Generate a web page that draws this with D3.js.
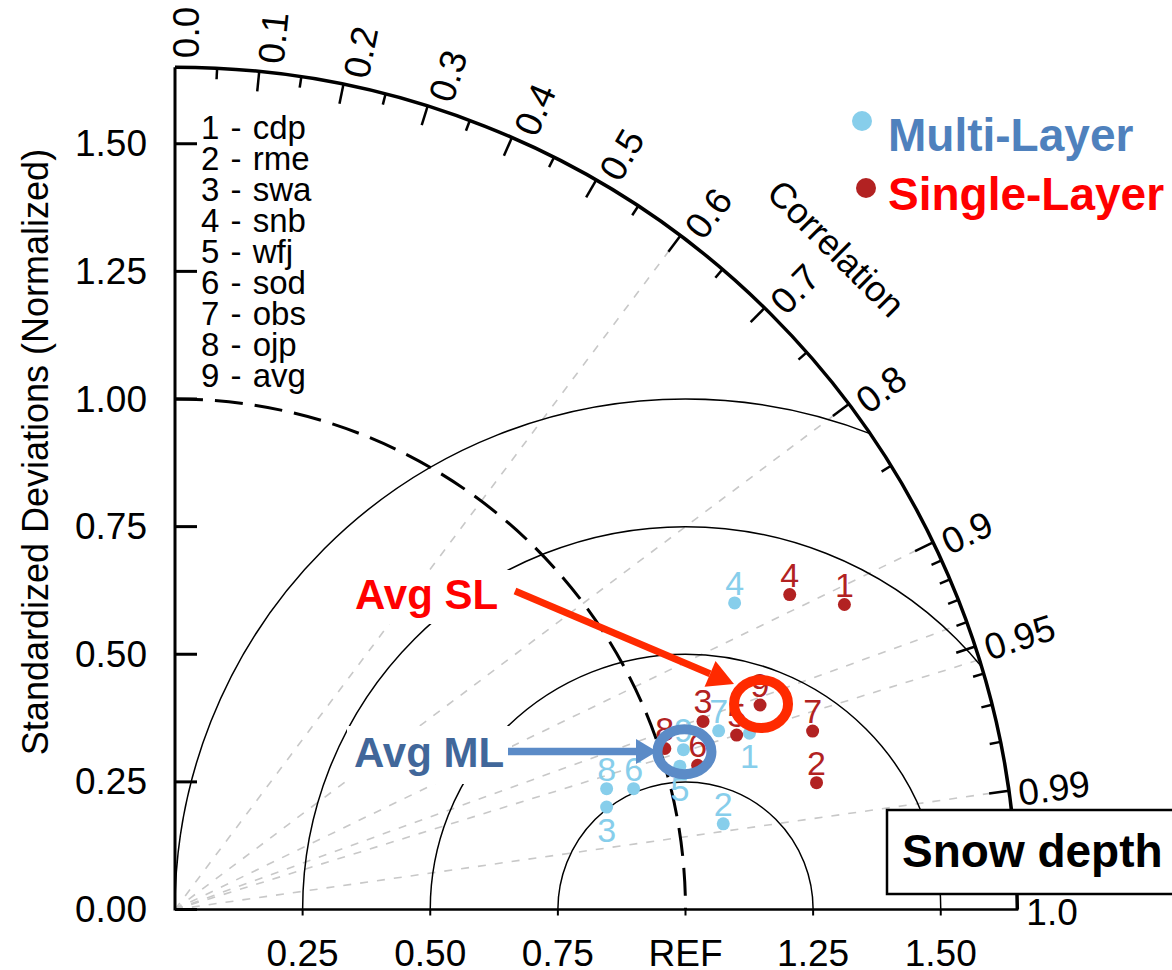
<!DOCTYPE html>
<html><head><meta charset="utf-8">
<script src="https://cdn.jsdelivr.net/npm/d3@7"></script>
<style>
body{margin:0;background:#fff}
svg{display:block}
text{font-family:"Liberation Sans",Arial,Helvetica,sans-serif}
</style>
</head><body>
<svg id="chart" width="1172" height="970"></svg>
<script>
// ---------------- data ----------------
const siteIds   = ["1","2","3","4","5","6","7","8","9"];
const siteNames = ["cdp","rme","swa","snb","wfj","sod","obs","ojp","avg"];

// Multi-Layer (normalized std, correlation)
const mlStd  = [1.177, 1.087, 0.869, 1.250, 1.028, 0.929, 1.121, 0.878, 1.044];
const mlCorr = [0.956, 0.988, 0.973, 0.877, 0.962, 0.967, 0.950, 0.963, 0.954];
const mlLabelSide = ["below","above","below","above","below","above","above","above","above"];

// Single-Layer
const slStd  = [1.441, 1.281, 1.098, 1.353, 1.152, 1.062, 1.297, 1.010, 1.214];
const slCorr = [0.910, 0.981, 0.942, 0.890, 0.955, 0.964, 0.963, 0.950, 0.944];
const slLabelSide = ["above","above","above","above","above","above","above","above","above"];

const yTickVals   = [0, 0.25, 0.5, 0.75, 1.0, 1.25, 1.5];
const yTickLabels = ["0.00","0.25","0.50","0.75","1.00","1.25","1.50"];
const xTickVals   = [0.25, 0.5, 0.75, 1.0, 1.25, 1.5];
const xTickLabels = ["0.25","0.50","0.75","REF","1.25","1.50"];

const corrMajorVals   = [0,0.1,0.2,0.3,0.4,0.5,0.6,0.7,0.8,0.9,0.95,0.99,1.0];
const corrMajorLabels = ["0.0","0.1","0.2","0.3","0.4","0.5","0.6","0.7","0.8","0.9","0.95","0.99","1.0"];
const corrMinorVals   = [0.05,0.15,0.25,0.35,0.45,0.55,0.65,0.75,0.85,0.91,0.92,0.93,0.94,0.96,0.97,0.98];
const corrRays        = [0.6, 0.8, 0.9, 0.94, 0.955, 0.99];
const rmsRadii        = [0.25, 0.5, 0.75, 1.0];
const stdMax = 1.65;

const seriesNames  = ["Multi-Layer","Single-Layer"];
const seriesColors = ["#87CEEB","#B22222"];
const seriesText   = ["#4F81BD","#FF0000"];

// ---------------- drawing ----------------
const svg = d3.select("#chart");
const cx = 175, cy = 909.5;
const r = d3.scaleLinear().domain([0, stdMax]).range([0, stdMax*510.5]);
const R = r(stdMax);
const polar = (s, c) => {
  const th = Math.acos(c);
  return [cx + r(s)*Math.cos(th), cy - r(s)*Math.sin(th)];
};

// clip to quadrant
const clip = d3.path();
clip.moveTo(cx, cy); clip.lineTo(cx, cy - R); clip.arc(cx, cy, R, -Math.PI/2, 0); clip.closePath();
svg.append("clipPath").attr("id","quad").append("path").attr("d", clip.toString());

const gClip = svg.append("g").attr("clip-path","url(#quad)");

// correlation rays
corrRays.forEach(c => {
  const [x, y] = polar(stdMax, c);
  gClip.append("line").attr("x1",cx).attr("y1",cy).attr("x2",x).attr("y2",y)
    .attr("stroke","#c8c8c8").attr("stroke-width",1.6).attr("stroke-dasharray","8,9");
});

// RMS circles centred on REF
rmsRadii.forEach(rc => {
  const p = d3.path();
  const rx = cx + r(1), rad = r(rc);
  p.moveTo(rx - rad, cy); p.arc(rx, cy, rad, Math.PI, 2*Math.PI, false);
  gClip.append("path").attr("d", p.toString()).attr("fill","none").attr("stroke","#000").attr("stroke-width",1.5);
});

// REF dashed circle
{
  const p = d3.path(); p.moveTo(cx, cy - r(1)); p.arc(cx, cy, r(1), -Math.PI/2, 0);
  svg.append("path").attr("d", p.toString()).attr("fill","none").attr("stroke","#000")
    .attr("stroke-width",3).attr("stroke-dasharray","28,12");
}

// outer arc
{
  const p = d3.path(); p.moveTo(cx, cy - R); p.arc(cx, cy, R, -Math.PI/2, 0);
  svg.append("path").attr("d", p.toString()).attr("fill","none").attr("stroke","#000").attr("stroke-width",3.5);
}
// axes
svg.append("line").attr("x1",cx).attr("y1",cy+1).attr("x2",cx).attr("y2",cy-R).attr("stroke","#000").attr("stroke-width",3);
svg.append("line").attr("x1",cx).attr("y1",cy).attr("x2",cx+R+1).attr("y2",cy).attr("stroke","#000").attr("stroke-width",2.5);

// correlation ticks
const tick = (c, len) => {
  const th = Math.acos(c);
  svg.append("line")
    .attr("x1", cx + R*Math.cos(th)).attr("y1", cy - R*Math.sin(th))
    .attr("x2", cx + (R-len)*Math.cos(th)).attr("y2", cy - (R-len)*Math.sin(th))
    .attr("stroke","#000").attr("stroke-width",2.5);
};
corrMajorVals.forEach(c => { if (c > 0 && c < 1) tick(c, 20); });
corrMinorVals.forEach(c => tick(c, 11));

// correlation labels
corrMajorVals.forEach((c, i) => {
  const th = Math.acos(c);
  const rr = R + 9, off = 3 + 8*Math.sin(th);
  const x = cx + rr*Math.cos(th) + off*Math.sin(th);
  const y = cy - rr*Math.sin(th) + off*Math.cos(th);
  svg.append("text").attr("transform", `translate(${x},${y}) rotate(${-th*180/Math.PI})`)
    .attr("dominant-baseline","central").attr("font-size",37).text(corrMajorLabels[i]);
});
svg.append("text").attr("transform", `translate(${cx + 935*Math.cos(Math.PI/4)},${cy - 935*Math.sin(Math.PI/4)}) rotate(45)`)
  .attr("text-anchor","middle").attr("dominant-baseline","central").attr("font-size",36).text("Correlation");

// y ticks + labels
yTickVals.forEach((v, i) => {
  const y = cy - r(v);
  svg.append("line").attr("x1",cx).attr("x2",cx+22).attr("y1",y).attr("y2",y).attr("stroke","#000").attr("stroke-width",3);
  svg.append("text").attr("x",147).attr("y",y).attr("text-anchor","end").attr("dominant-baseline","central")
    .attr("font-size",37).text(yTickLabels[i]);
});
// x ticks (short, below the axis) + labels
xTickVals.forEach((v, i) => {
  const x = cx + r(v);
  svg.append("line").attr("x1",x).attr("x2",x).attr("y1",cy).attr("y2",cy+6).attr("stroke","#000").attr("stroke-width",2);
  svg.append("text").attr("x",x).attr("y",966).attr("text-anchor","middle").attr("font-size",37).text(xTickLabels[i]);
});
svg.append("text").attr("transform","translate(35,452) rotate(-90)").attr("text-anchor","middle")
  .attr("dominant-baseline","central").attr("font-size",36).text("Standardized Deviations (Normalized)");

// site list
siteIds.forEach((id, i) => {
  svg.append("text").attr("x",201).attr("y",139.3 + i*30.9).attr("font-size",33).attr("word-spacing",2)
    .text(`${id} - ${siteNames[i]}`);
});

// white label boxes for annotations (drawn before points)
svg.append("rect").attr("x",347).attr("y",570).attr("width",165).attr("height",54).attr("fill","#fff");
svg.append("rect").attr("x",347).attr("y",726).attr("width",165).attr("height",58).attr("fill","#fff");

// data points
const drawSeries = (stds, corrs, sides, color) => {
  const g = svg.append("g");
  stds.forEach((s, i) => {
    const [x, y] = polar(s, corrs[i]);
    g.append("circle").attr("cx",x).attr("cy",y).attr("r",6.5).attr("fill",color);
    g.append("text").attr("x",x).attr("y", sides[i] === "above" ? y - 8 : y + 35)
      .attr("text-anchor","middle").attr("font-size",34).attr("fill",color).text(siteIds[i]);
  });
};
drawSeries(mlStd, mlCorr, mlLabelSide, seriesColors[0]);
drawSeries(slStd, slCorr, slLabelSide, seriesColors[1]);

// annotations
svg.append("text").attr("x",355).attr("y",609).attr("font-size",42).attr("font-weight","bold").attr("fill","#FF0000").text("Avg SL");
svg.append("text").attr("x",354).attr("y",767).attr("font-size",42).attr("font-weight","bold").attr("fill","#41679A").text("Avg ML");

const arrow = (x1, y1, x2, y2, color, w, hl, hw) => {
  const a = Math.atan2(y2 - y1, x2 - x1);
  const bx = x2 - hl*Math.cos(a), by = y2 - hl*Math.sin(a);
  svg.append("line").attr("x1",x1).attr("y1",y1).attr("x2",bx).attr("y2",by).attr("stroke",color).attr("stroke-width",w);
  const pts = [[x2,y2],[bx + hw*Math.sin(a), by - hw*Math.cos(a)],[bx - hw*Math.sin(a), by + hw*Math.cos(a)]];
  svg.append("polygon").attr("points", pts.map(p => p.join(",")).join(" ")).attr("fill",color);
};
arrow(515, 591, 734, 684, "#FF2A00", 7, 26, 14);
arrow(508, 751.5, 657, 751.5, "#5B8BC7", 7.5, 21, 12.5);

// highlight rings around averages
{
  const [sx, sy] = polar(slStd[8], slCorr[8]);
  svg.append("ellipse").attr("cx",sx+1).attr("cy",sy-1).attr("rx",27).attr("ry",24).attr("fill","none").attr("stroke","#FF2A00").attr("stroke-width",10);
  const [mx, my] = polar(mlStd[8], mlCorr[8]);
  svg.append("ellipse").attr("cx",mx+1).attr("cy",my+2).attr("rx",27).attr("ry",22.5).attr("fill","none").attr("stroke","#5B8BC7").attr("stroke-width",10);
}

// legend
const legY = [151, 210], dotY = [121, 188], dotX = [862, 866];
seriesNames.forEach((n, i) => {
  svg.append("circle").attr("cx",dotX[i]).attr("cy",dotY[i]).attr("r",10).attr("fill",seriesColors[i]);
  svg.append("text").attr("x",888).attr("y",legY[i]).attr("font-size",46).attr("font-weight","bold").attr("fill",seriesText[i]).text(n);
});

// title box
svg.append("rect").attr("x",887).attr("y",810).attr("width",320).attr("height",84).attr("fill","#fff").attr("stroke","#000").attr("stroke-width",2.5);
svg.append("text").attr("x",902).attr("y",867).attr("font-size",46).attr("font-weight","bold").text("Snow depth");
</script>
</body></html>
